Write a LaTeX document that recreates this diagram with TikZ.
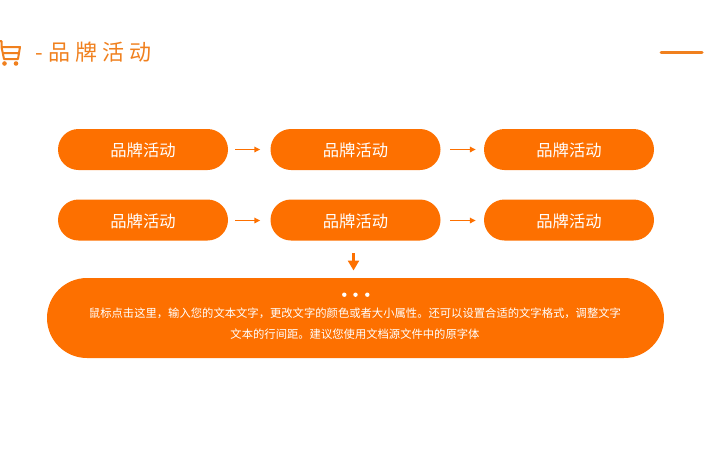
\documentclass[tikz,border=0pt]{standalone}
\usepackage{fontspec}
\setmainfont{Noto Sans CJK SC}
\usetikzlibrary{arrows.meta}
\definecolor{brand}{HTML}{FD7000}
\definecolor{head}{HTML}{F0801E}
\tikzset{
pill/.style={fill=brand,text=white,rounded corners=20.5pt,minimum width=170pt,minimum height=41pt,inner sep=0pt,text height=16pt,text depth=1.2pt,font=\fontsize{16.3pt}{18pt}\selectfont},
link/.style={draw=brand,line width=1.5pt,-{Triangle[length=6pt,width=5.5pt]},shorten <=#1,shorten >=8pt},
dot/.style={circle,fill=white,minimum size=4.4pt,inner sep=0pt}
}
\begin{document}
\begin{tikzpicture}[x=1pt,y=-1pt]
\useasboundingbox (0,0) rectangle (720,450);
\node[pill] (a1) at (143,149.5) {品牌活动};
\node[pill] (a2) at (355.5,149.5) {品牌活动};
\node[pill] (a3) at (569,149.5) {品牌活动};
\node[pill] (b1) at (143,220) {品牌活动};
\node[pill] (b2) at (355.5,220) {品牌活动};
\node[pill] (b3) at (569,220) {品牌活动};
\node[fill=brand,rounded corners=40pt,minimum width=617pt,minimum height=80pt,inner sep=0pt] (big) at (355.5,318) {};
\draw[link=7pt,shorten >=10pt] (a1)--(a2);
\draw[link=9.5pt] (a2)--(a3);
\draw[link=7pt,shorten >=10pt] ([yshift=-0.5pt]b1.east)--([yshift=-0.5pt]b2.west);
\draw[link=9.5pt] ([yshift=-0.5pt]b2.east)--([yshift=-0.5pt]b3.west);
\coordinate (downa) at (353.5,253);
\coordinate (downb) at (353.5,270.5);
\draw[draw=brand,line width=3.6pt,-{Triangle[length=10pt,width=11pt]}] (downa)--(downb);
\node[dot] (d1) at (344.3,294.7) {};
\node[dot] (d2) at (355.5,294.7) {};
\node[dot] (d3) at (367.3,294.7) {};
\node[text=white,align=center,font=\fontsize{11.32pt}{21pt}\selectfont] (body) at (355,323.5) {鼠标点击这里，输入您的文本文字，更改文字的颜色或者大小属性。还可以设置合适的文字格式，调整文字\\文本的行间距。建议您使用文档源文件中的原字体};
\node[text=head,anchor=west,inner sep=0pt,font=\fontsize{22pt}{24pt}\selectfont\addfontfeature{LetterSpace=23}] (title) at (35.5,52) {-品牌活动};
\coordinate (rulea) at (661,52.5);
\coordinate (ruleb) at (702,52.5);
\draw[draw=head,line width=3pt,line cap=round] (rulea)--(ruleb);
\draw[draw=head,line width=2pt,line join=round] (0,41)--(1.5,41)--(1.5,47)--(20,47)--(18,59)--(4,59)--(1.5,47) (3,53)--(19,53);
\fill[head] (4.5,63.5) circle (2.3pt) (16,63.5) circle (2.3pt);
\end{tikzpicture}
\end{document}
